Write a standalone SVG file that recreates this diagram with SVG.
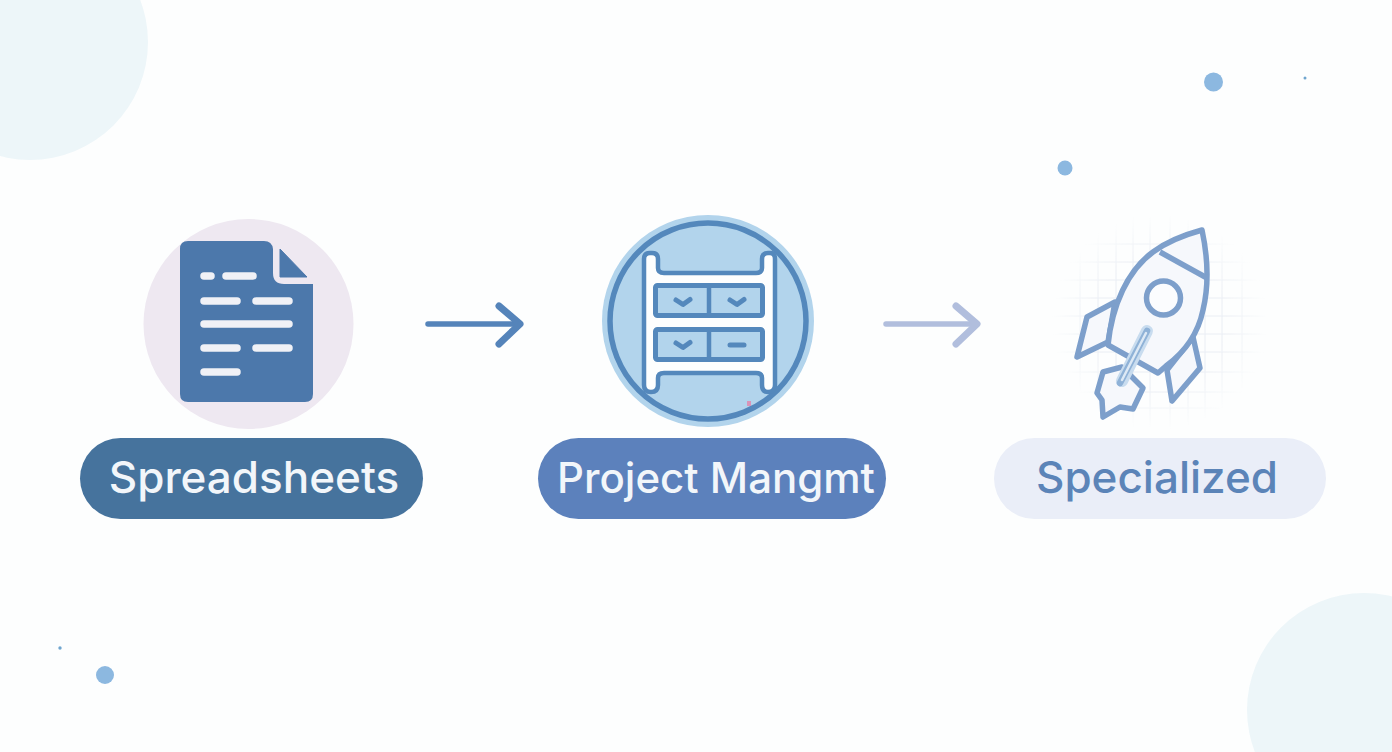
<svg xmlns="http://www.w3.org/2000/svg" width="1392" height="752" viewBox="0 0 1392 752">
<defs><style>
.lab{font-family:"Inter","Noto Sans","Liberation Sans",sans-serif;font-weight:500;text-anchor:middle}
.ln{stroke:#f0f1f6;stroke-width:7.500;stroke-linecap:round;fill:none}
.b{stroke:#5488bc;fill:none;stroke-linecap:round;stroke-linejoin:round}
.r{stroke:#7d9fcb;stroke-width:5.500;stroke-linejoin:round;stroke-linecap:round;fill:#f6f8fc}
.g{stroke:#eaeef4;stroke-width:1;fill:none}
</style>
<radialGradient id="fade"><stop offset="0.6" stop-color="#fff"/><stop offset="1" stop-color="#000"/></radialGradient>
<mask id="gm" maskUnits="userSpaceOnUse" x="1040" y="200" width="240" height="240"><circle cx="1160" cy="322" r="108" fill="url(#fade)"/></mask>
</defs>
<rect width="1392" height="752" fill="#fdfefe"/>
<g id="decor">
<circle cx="30" cy="42" r="118" fill="#edf6f9"/>
<circle cx="1364" cy="710" r="117" fill="#edf6f9"/>
<circle cx="1213.500" cy="82" r="9.500" fill="#8cb8e0"/>
<circle cx="1065" cy="168" r="7.500" fill="#8cb8e0"/>
<circle cx="1305" cy="78" r="1.500" fill="#6fa5cf"/>
<circle cx="105" cy="675" r="9" fill="#8cb8e0"/>
<circle cx="60" cy="648" r="1.700" fill="#6fa5cf"/>
</g>
<g id="connectors" fill="none" stroke-linecap="round" stroke-linejoin="round">
<g stroke="#5584ba"><path d="M428 324H516" stroke-width="5.500"/><path d="M499 306L520 324L499 344" stroke-width="7"/></g>
<g stroke="#b1bedd"><path d="M886 324H974" stroke-width="5.500"/><path d="M956 306L977 324L956 344" stroke-width="7"/></g>
</g>
<g id="node-spreadsheets">
<circle cx="248.500" cy="324" r="105" fill="#eee8f1"/>
<path d="M188 241H264Q272 241 273 249V273Q273 284 284 284H313V394Q313 402 305 402H188Q180 402 180 394V249Q180 241 188 241Z" fill="#4c78ab"/>
<path d="M280 249L307 277H280Z" fill="#4c78ab" stroke="#4c78ab" stroke-linejoin="round" stroke-width="1"/>
<g class="ln"><path d="M204 276H211"/><path d="M226 276H253"/><path d="M204 301H237"/><path d="M256 301H289"/><path d="M204 324H289"/><path d="M204 348H237"/><path d="M256 348H289"/><path d="M204 372H237"/></g>
<rect x="80" y="438" width="343" height="81" rx="40.500" fill="#46739d"/>
<text class="lab" x="254" y="493" font-size="44" fill="#f2f6fa">Spreadsheets</text>
</g>
<g id="node-project">
<circle cx="708" cy="321" r="106" fill="#b2d4ec"/>
<circle cx="708" cy="321" r="98" fill="#b2d4ec" stroke="#5488bc" stroke-width="5.500"/>
<path d="M650 253H652Q658 253 658 259V268Q658 273 664 273H756Q762 273 762 268V259Q762 253 768 253H770Q775 253 775 259V385Q775 392 768 392Q762 392 762 385V378Q762 373 756 373H664Q658 373 658 378V385Q658 392 651 392Q644 392 644 385V259Q644 253 650 253Z" fill="#fdfefe" stroke="#5488bc" stroke-width="4.500" stroke-linejoin="round"/>
<g fill="#b2d4ec" stroke="#5488bc" stroke-width="5" stroke-linejoin="round"><rect x="655.500" y="285.500" width="107" height="30" rx="2"/><rect x="655.500" y="329.500" width="107" height="30" rx="2"/></g>
<g class="b" stroke-width="4.500"><path d="M709 285.500V315.500"/><path d="M709 329.500V359.500"/></g>
<g class="b" stroke-width="5"><path d="M676 300L683 304.500L690 299.500"/><path d="M730 300L737 304.500L744 299.500"/><path d="M676 343L683 347.500L690 342.500"/><path d="M730 345H744"/></g>
<rect x="747" y="401" width="4" height="5" fill="#d994b8"/>
<rect x="538" y="438" width="348" height="81" rx="40.500" fill="#5c81bc"/>
<text class="lab" x="716" y="493" font-size="42" fill="#f2f6fa">Project Mangmt</text>
</g>
<g id="node-specialized">
<g class="g" mask="url(#gm)"><path d="M1040 244H1280M1040 262H1280M1040 280H1280M1040 298H1280M1040 316H1280M1040 334H1280M1040 352H1280M1040 372H1280M1040 392H1280M1040 408H1280M1080 200V440M1098 200V440M1116 200V440M1133 200V440M1150 200V440M1170 200V440M1188 200V440M1205 200V440M1222 200V440M1242 200V440"/></g>
<path class="r" d="M1115 302L1087 317L1077 357L1108 342Z"/>
<path class="r" d="M1193 337L1200 368L1172 401L1167 370Z"/>
<path class="r" d="M1202 230C1180 236 1165 243 1153 252C1128 270 1112 305 1108 345L1158 373L1166 366C1185 352 1198 334 1203 310C1209 285 1208 258 1202 230Z"/>
<path d="M1160 252L1207 278" fill="none" stroke="#7d9fcb" stroke-width="5.500"/>
<circle cx="1163.500" cy="298" r="17" fill="#fbfcfe" stroke="#7d9fcb" stroke-width="5.500"/>
<path class="r" d="M1103 372L1122 367L1143 388L1133 409L1120 407L1103 417L1102 400L1097 393Z"/>
<path d="M1147 331L1122 381" stroke="#c8dcef" stroke-width="12" stroke-linecap="round" fill="none"/>
<path d="M1147 331L1120 383" stroke="#8fb2d7" stroke-width="6.500" stroke-linecap="round" fill="none"/>
<path d="M1146 333L1122 380" stroke="#dde9f5" stroke-width="2.500" stroke-linecap="round" fill="none"/>
<rect x="994" y="438" width="332" height="81" rx="40.500" fill="#eaeef8"/>
<text class="lab" x="1157" y="493" font-size="44" fill="#5b84b8">Specialized</text>
</g>
</svg>
